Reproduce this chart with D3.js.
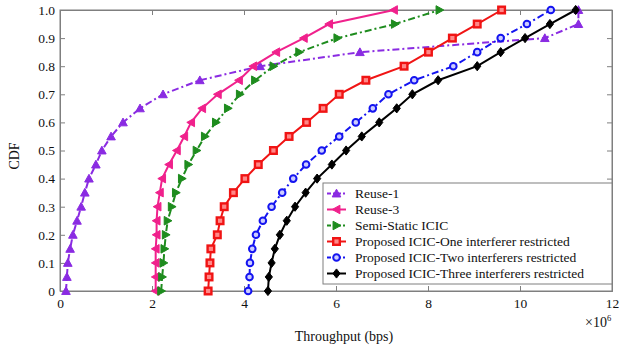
<!DOCTYPE html>
<html><head><meta charset="utf-8">
<script src="https://cdn.jsdelivr.net/npm/d3@7"></script>
<style>body{margin:0;background:#fff}svg{display:block}</style>
</head><body><svg id="c" width="619" height="351"></svg>
<script>
const cdfLevels = [0,0.05,0.1,0.15,0.2,0.25,0.3,0.35,0.4,0.45,0.5,0.55,0.6,0.65,0.7,0.75,0.8,0.85,0.9,0.95,1.0];
const reuse1   = [0.13,0.15,0.17,0.22,0.28,0.37,0.46,0.54,0.63,0.78,0.91,1.11,1.37,1.74,2.24,3.04,4.35,6.52,10.54,11.27,11.27];
const reuse3   = [2.08,2.08,2.08,2.08,2.10,2.10,2.12,2.17,2.22,2.37,2.54,2.70,2.85,3.09,3.43,3.89,4.20,4.70,5.30,5.85,7.26];
const semiStatic = [2.20,2.22,2.25,2.27,2.30,2.34,2.43,2.52,2.65,2.79,2.97,3.15,3.39,3.65,3.91,4.24,4.64,5.20,6.03,7.28,8.25];
const propOne  = [3.22,3.24,3.26,3.28,3.42,3.48,3.57,3.77,4.02,4.31,4.64,4.98,5.36,5.72,6.07,6.65,7.48,8.01,8.53,9.07,9.60];
const propTwo  = [4.09,4.12,4.13,4.18,4.26,4.41,4.60,4.83,5.07,5.35,5.69,6.07,6.43,6.80,7.14,7.70,8.55,9.07,9.58,10.15,10.67];
const propThree= [4.52,4.54,4.60,4.67,4.78,4.93,5.11,5.34,5.59,5.91,6.22,6.56,6.94,7.32,7.66,8.22,9.07,9.58,10.11,10.65,11.21];
const seriesNames = ["Reuse-1","Reuse-3","Semi-Static ICIC","Proposed ICIC-One interferer restricted","Proposed ICIC-Two interferers restricted","Proposed ICIC-Three interferers restricted"];
const xTicks = [0,2,4,6,8,10,12];
const yTicks = [0,0.1,0.2,0.3,0.4,0.5,0.6,0.7,0.8,0.9,1.0];
const yTickLabels = ["0","0.1","0.2","0.3","0.4","0.5","0.6","0.7","0.8","0.9","1.0"];

const styles = [
  {color:"#8a2be2", dash:"7,3,2,3", marker:"triUp"},
  {color:"#f0218c", dash:null, marker:"triLeft"},
  {color:"#1e8c1e", dash:"7,3,2,3", marker:"triRight"},
  {color:"#f01414", dash:null, marker:"square"},
  {color:"#1414f0", dash:"7,3,2,3", marker:"circle"},
  {color:"#000000", dash:null, marker:"diamond"}
];
const allSeries = [reuse1, reuse3, semiStatic, propOne, propTwo, propThree];
const FONT = "Liberation Serif";
const FS = 13.5;

const svg = d3.select("#c");
const L=60, R=612, T=10, B=291;
const x = d3.scaleLinear().domain([0,12]).range([L,R]);
const y = d3.scaleLinear().domain([0,1]).range([B,T]);
const axisColor = "#7f7f7f";

svg.append("rect").attr("x",L).attr("y",T).attr("width",R-L).attr("height",B-T)
  .attr("fill","none").attr("stroke",axisColor).attr("stroke-width",1);

const xb = svg.append("g").attr("transform",`translate(0,${B})`)
  .call(d3.axisBottom(x).tickValues(xTicks).tickSize(-5).tickPadding(7).tickFormat(d3.format("d")));
const xt = svg.append("g").attr("transform",`translate(0,${T})`)
  .call(d3.axisTop(x).tickValues(xTicks).tickSize(-5).tickFormat(""));
const yl = svg.append("g").attr("transform",`translate(${L},0)`)
  .call(d3.axisLeft(y).tickValues(yTicks).tickSize(-5).tickPadding(5).tickFormat((d,i)=>yTickLabels[i]));
const yr = svg.append("g").attr("transform",`translate(${R},0)`)
  .call(d3.axisRight(y).tickValues(yTicks).tickSize(-5).tickFormat(""));
[xb,xt,yl,yr].forEach(g=>{
  g.attr("font-family",FONT).attr("font-size",FS);
  g.select(".domain").attr("stroke",axisColor);
  g.selectAll(".tick line").attr("stroke",axisColor);
  g.selectAll("text").attr("fill","#111").attr("font-family",FONT).attr("font-size",FS);
});

svg.append("text").attr("x",344).attr("y",341).attr("text-anchor","middle").attr("font-size",14).attr("font-family",FONT).attr("fill","#111").text("Throughput (bps)");
svg.append("text").attr("transform","translate(19,156) rotate(-90)").attr("text-anchor","middle").attr("font-size",14).attr("font-family",FONT).attr("fill","#111").text("CDF");
const mult = svg.append("text").attr("x",585).attr("y",327).attr("font-size",14).attr("font-family",FONT).attr("fill","#111");
mult.append("tspan").text("×10");
mult.append("tspan").attr("dy",-6).attr("font-size",8.5).text("6");

function marker(g, type, cx, cy, color){
  const s=4.3;
  if(type==="triUp") g.append("path").attr("d",`M${cx},${cy-s}L${cx+s},${cy+s*0.8}L${cx-s},${cy+s*0.8}Z`).attr("fill",color).attr("stroke",color).attr("stroke-width",1);
  else if(type==="triLeft") g.append("path").attr("d",`M${cx-s},${cy}L${cx+s*0.8},${cy-s}L${cx+s*0.8},${cy+s}Z`).attr("fill",color).attr("stroke",color).attr("stroke-width",1);
  else if(type==="triRight") g.append("path").attr("d",`M${cx+s},${cy}L${cx-s*0.8},${cy-s}L${cx-s*0.8},${cy+s}Z`).attr("fill",color).attr("stroke",color).attr("stroke-width",1);
  else if(type==="square") g.append("rect").attr("x",cx-3.3).attr("y",cy-3.3).attr("width",6.6).attr("height",6.6).attr("fill","#f88").attr("stroke",color).attr("stroke-width",2.4);
  else if(type==="circle") g.append("circle").attr("cx",cx).attr("cy",cy).attr("r",3.3).attr("fill","#ccf").attr("stroke",color).attr("stroke-width",2);
  else if(type==="diamond") g.append("path").attr("d",`M${cx},${cy-4.6}L${cx+3.6},${cy}L${cx},${cy+4.6}L${cx-3.6},${cy}Z`).attr("fill",color).attr("stroke",color).attr("stroke-width",1);
}

const line = d3.line().x(d=>x(d[0])).y(d=>y(d[1]));
const plot = svg.append("g");
allSeries.forEach((vals,i)=>{
  const st = styles[i];
  const pts = vals.map((v,j)=>[v, cdfLevels[j]]);
  plot.append("path").datum(pts).attr("d",line).attr("fill","none")
    .attr("stroke",st.color).attr("stroke-width",2).attr("stroke-dasharray",st.dash);
  const mg = plot.append("g");
  pts.forEach(p=>marker(mg, st.marker, x(p[0]), y(p[1]), st.color));
});

const lg = svg.append("g");
lg.append("rect").attr("x",323).attr("y",183).attr("width",289).attr("height",101)
  .attr("fill","#fff").attr("stroke",axisColor).attr("stroke-width",1);
seriesNames.forEach((n,i)=>{
  const yy = 193.5 + i*16;
  const st = styles[i];
  lg.append("line").attr("x1",327).attr("x2",346).attr("y1",yy).attr("y2",yy)
    .attr("stroke",st.color).attr("stroke-width",2).attr("stroke-dasharray",st.dash?"4,2,2,2":null);
  marker(lg, st.marker, 336.5, yy, st.color);
  lg.append("text").attr("x",355).attr("y",yy+4.5).attr("font-size",FS).attr("font-family",FONT).attr("fill","#111").text(n);
});
</script></body></html>
